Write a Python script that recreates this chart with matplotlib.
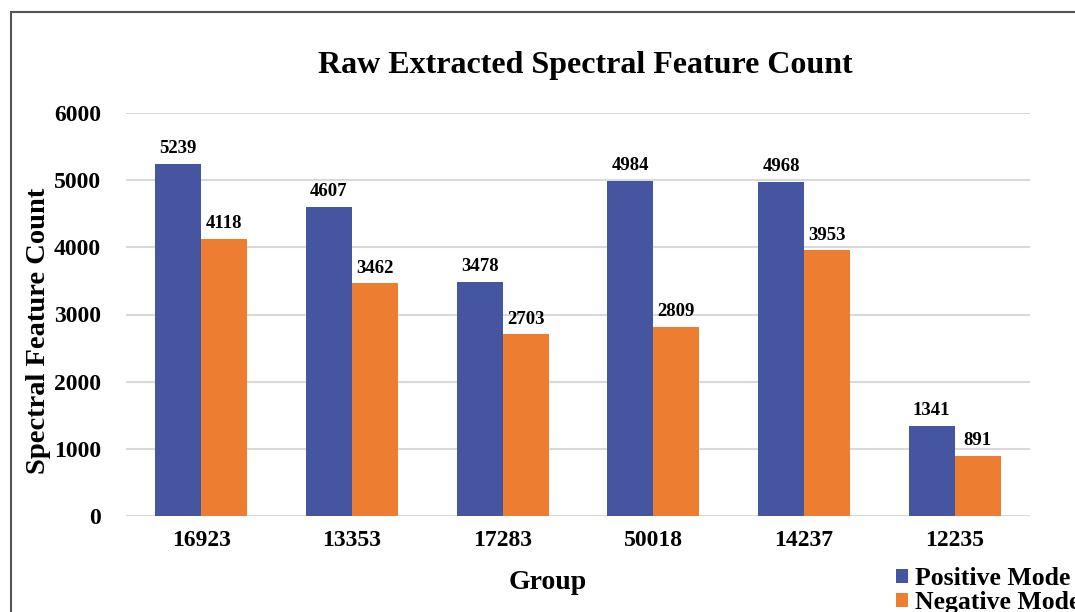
import matplotlib.pyplot as plt
from matplotlib.patches import Rectangle
import numpy as np

groups = ['16923', '13353', '17283', '50018', '14237', '12235']
positive_mode = [5239, 4607, 3478, 4984, 4968, 1341]
negative_mode = [4118, 3462, 2703, 2809, 3953, 891]
y_ticks = [0, 1000, 2000, 3000, 4000, 5000, 6000]

plt.rcParams['font.family'] = ['Liberation Serif', 'DejaVu Serif']
plt.rcParams['font.weight'] = 'bold'

blue = '#45559f'
orange = '#ed7d31'

fig = plt.figure(figsize=(10.75, 6.12), dpi=100)
ax = fig.add_axes([126 / 1075, 1 - 516 / 612, 904 / 1075, 403 / 612])

x = np.arange(len(groups))
w = 0.305
b1 = ax.bar(x - w / 2, positive_mode, w, color=blue, label='Positive Mode', zorder=3)
b2 = ax.bar(x + w / 2, negative_mode, w, color=orange, label='Negative Mode', zorder=3)

for bars in (b1, b2):
    for rect in bars:
        h = rect.get_height()
        ax.annotate(f'{int(h)}', (rect.get_x() + rect.get_width() / 2, h),
                    xytext=(0, 5), textcoords='offset points',
                    ha='center', va='bottom', fontsize=13.5, fontweight='bold')

ax.set_xlim(-0.5, len(groups) - 0.5)
ax.set_ylim(0, 6000)
ax.set_yticks(y_ticks)
ax.set_yticklabels([str(t) for t in y_ticks], fontsize=17, fontweight='bold')
ax.set_xticks(x)
ax.set_xticklabels(groups, fontsize=17, fontweight='bold')
ax.tick_params(axis='both', length=0)
ax.tick_params(axis='y', pad=18)
ax.tick_params(axis='x', pad=10)
ax.grid(axis='y', color='#d9d9d9', linewidth=1.5, zorder=0)
for s in ax.spines.values():
    s.set_visible(False)

ax.set_xlabel('Group', fontsize=20, fontweight='bold')
ax.set_ylabel('Spectral Feature Count', fontsize=20.5, fontweight='bold')
ax.xaxis.set_label_coords(0.467, -0.135)
ax.yaxis.set_label_coords(-0.083, 0.46)
fig.text(585 / 1075, 1 - 65 / 612, 'Raw Extracted Spectral Feature Count',
         ha='center', va='center', fontsize=23, fontweight='bold')

fig.legend(handles=[b1, b2], loc='upper left', bbox_to_anchor=(896 / 1075, 1 - 567 / 612),
           frameon=False, fontsize=18.5, handlelength=0.45, handleheight=0.45,
           handletextpad=0.3, labelspacing=0.05, borderpad=0, borderaxespad=0)

fig.patches.append(Rectangle((11 / 1075, -0.05), 1.1, 1 - 12 / 612 + 0.05,
                             transform=fig.transFigure, fill=False,
                             edgecolor='#555555', linewidth=1.5))

fig.savefig('out.png', dpi=100)
